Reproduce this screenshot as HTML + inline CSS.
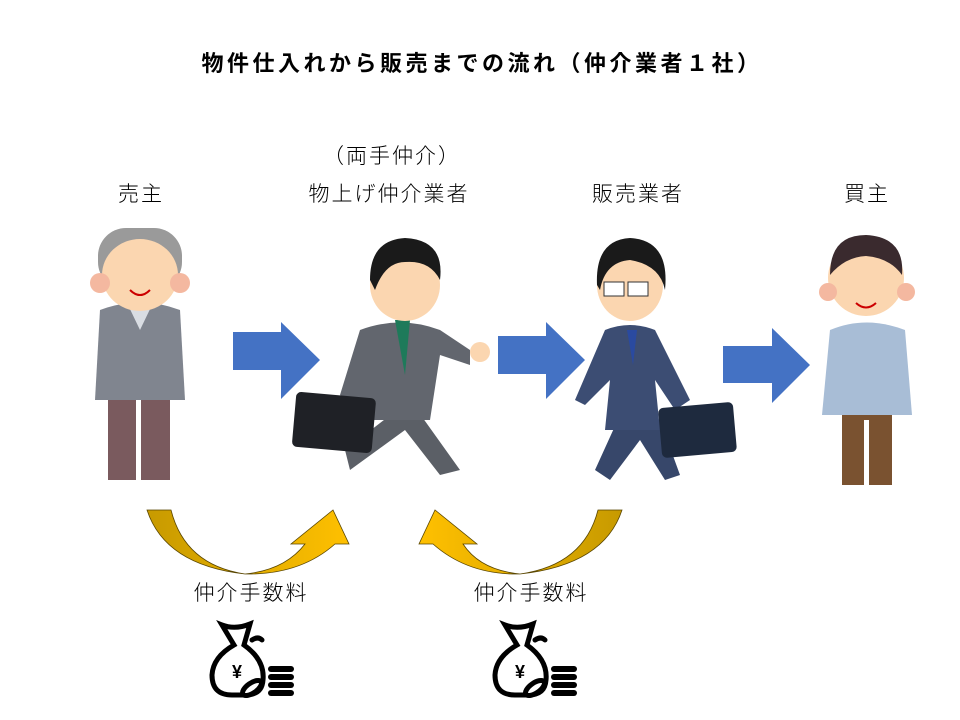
<!DOCTYPE html>
<html><head><meta charset="utf-8"><style>
html,body{margin:0;padding:0;background:#fff}
svg{display:block}
text{font-family:"Liberation Sans","Noto Sans CJK JP",sans-serif}
</style></head><body>
<svg width="960" height="720" viewBox="0 0 960 720" xmlns="http://www.w3.org/2000/svg">
<defs>
<linearGradient id="g1" x1="0" x2="1"><stop offset="0" stop-color="#c79a00"/><stop offset="1" stop-color="#ffc000"/></linearGradient>
<linearGradient id="g2" x1="1" x2="0"><stop offset="0" stop-color="#c79a00"/><stop offset="1" stop-color="#ffc000"/></linearGradient>
</defs>
<text x="482" y="71" font-size="22" font-weight="bold" text-anchor="middle" letter-spacing="3.5">物件仕入れから販売までの流れ（仲介業者１社）</text>
<g font-size="21" text-anchor="middle" letter-spacing="2" font-weight="300">
<text x="392" y="163">（両手仲介）</text>
<text x="141" y="201">売主</text>
<text x="389" y="201">物上げ仲介業者</text>
<text x="638" y="201">販売業者</text>
<text x="867" y="201">買主</text>
<text x="251" y="600">仲介手数料</text>
<text x="531" y="600">仲介手数料</text>
</g>
<g fill="#4472c4">
<polygon points="233,332 281,332 281,322 320,360 281,399 281,370 233,370"/>
<polygon points="498,336 546,336 546,322 585,360 546,399 546,374 498,374"/>
<polygon points="723,346 772,346 772,328 810,365 772,403 772,383 723,383"/>
</g>
<path d="M147,510 L171,510 Q185,565 245,574 Q285,570 305,544 L291,544 L333,510 L349,544 L335,544 Q300,575 245,574 Q165,565 147,510 Z" fill="url(#g1)" stroke="#5a4600" stroke-width="0.8"/>
<path d="M622,510 L598,510 Q584,565 520,574 Q480,570 463,544 L477,544 L435,510 L419,544 L433,544 Q468,575 520,574 Q604,565 622,510 Z" fill="url(#g2)" stroke="#5a4600" stroke-width="0.8"/>
<g id="mb" fill="none" stroke="#000" stroke-width="5" stroke-linecap="round">
<path d="M222,625 Q235,630 250,624 L244,645 Q265,660 263,680 Q262,695 245,695 L232,695 Q212,695 212,675 Q213,657 234,645 Z"/>
<path d="M252,640 Q258,636 262,640"/>
<text x="237" y="678" font-size="18" font-weight="bold" fill="#000" stroke="none" text-anchor="middle">¥</text>
<ellipse cx="252" cy="688" rx="11" ry="5" transform="rotate(-35 252 688)" fill="#fff"/>
<g fill="#000" stroke="none"><rect x="268" y="666" width="26" height="6" rx="3"/><rect x="268" y="674" width="26" height="6" rx="3"/><rect x="268" y="682" width="26" height="6" rx="3"/><rect x="268" y="690" width="26" height="6" rx="3"/></g>
</g>
<use href="#mb" transform="translate(283,0)"/>
<g>
<rect x="108" y="390" width="62" height="90" fill="#7a5a5e"/>
<rect x="136" y="400" width="5" height="80" fill="#fff"/>
<path d="M100,310 Q140,295 180,310 L185,400 L95,400 Z" fill="#80858f"/>
<polygon points="128,305 152,305 140,330" fill="#d9dde3"/>
<rect x="98" y="228" width="84" height="62" rx="28" fill="#9a9a9a"/>
<ellipse cx="140" cy="275" rx="38" ry="36" fill="#fbd6b0"/>
<circle cx="100" cy="283" r="10" fill="#f4b8a0"/><circle cx="180" cy="283" r="10" fill="#f4b8a0"/>
<path d="M130,290 Q140,300 150,290" stroke="#c00" stroke-width="2" fill="none"/>
</g>
<g>
<path d="M345,450 L410,400 L460,470 L440,475 L405,430 L350,470 Z" fill="#5b5f66"/>
<path d="M360,330 Q400,315 440,330 L470,350 L470,365 L440,355 L430,420 L365,420 L340,395 Z" fill="#62666e"/>
<polygon points="395,320 410,320 405,375" fill="#1e7a5a"/>
<circle cx="480" cy="352" r="10" fill="#fbd6b0"/>
<rect x="294" y="395" width="80" height="55" rx="5" fill="#1f2126" transform="rotate(5 334 422)"/>
<ellipse cx="405" cy="285" rx="35" ry="36" fill="#fbd6b0"/>
<path d="M370,280 Q370,240 405,238 Q445,240 440,280 Q430,260 405,262 Q385,262 375,290 Z" fill="#1a1a1a"/>
</g>
<g>
<path d="M595,470 L620,415 L660,420 L680,475 L665,480 L640,440 L610,480 Z" fill="#37476a"/>
<path d="M605,330 Q630,320 655,330 L690,400 L675,410 L655,380 L660,430 L605,430 L610,380 L585,405 L575,400 Z" fill="#3c4d73"/>
<polygon points="627,330 637,330 633,365" fill="#2a4aa0"/>
<rect x="660" y="405" width="75" height="50" rx="5" fill="#1e2a3e" transform="rotate(-5 697 430)"/>
<ellipse cx="630" cy="285" rx="33" ry="36" fill="#fbd6b0"/>
<path d="M597,285 Q595,240 630,238 Q670,240 665,290 Q660,265 630,260 Q605,262 600,290 Z" fill="#1a1a1a"/>
<rect x="604" y="282" width="20" height="14" fill="#fff" stroke="#333"/><rect x="628" y="282" width="20" height="14" fill="#fff" stroke="#333"/>
</g>
<g>
<rect x="842" y="410" width="50" height="75" fill="#7a5230"/>
<rect x="864" y="420" width="5" height="65" fill="#fff"/>
<path d="M830,330 Q866,315 905,330 L912,415 L822,415 Z" fill="#a8bdd6"/>
<ellipse cx="866" cy="278" rx="38" ry="38" fill="#fbd6b0"/>
<path d="M830,275 Q830,235 866,235 Q905,237 902,275 Q890,258 866,256 Q845,257 830,275 Z" fill="#3a2a2e"/>
<circle cx="828" cy="292" r="9" fill="#f4b8a0"/><circle cx="906" cy="292" r="9" fill="#f4b8a0"/>
<path d="M856,303 Q866,312 876,303" stroke="#c00" stroke-width="2" fill="none"/>
</g>
</svg>
</body></html>
